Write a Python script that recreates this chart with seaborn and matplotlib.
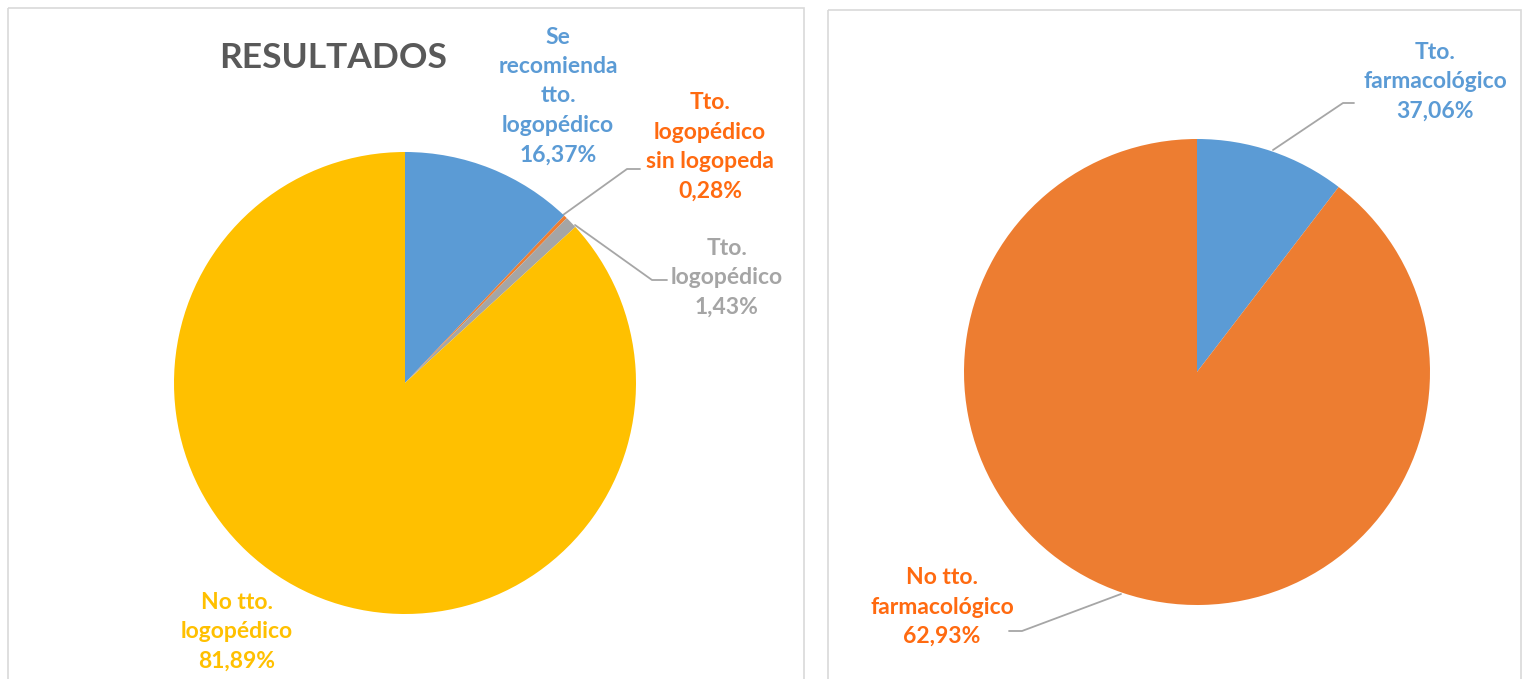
import matplotlib
matplotlib.use("Agg")
import matplotlib.pyplot as plt
import seaborn as sns
from matplotlib.patches import Rectangle

# datos (tamaño visual de los sectores y etiquetas tal como aparecen)
izq_etiquetas = ["Se\nrecomienda\ntto.\nlogopédico", "Tto.\nlogopédico\nsin logopeda",
                 "Tto.\nlogopédico", "No tto.\nlogopédico"]
izq_pct = ["16,37%", "0,28%", "1,43%", "81,89%"]
izq_sectores = [12.1, 0.25, 0.85, 86.8]

der_etiquetas = ["Tto.\nfarmacológico", "No tto.\nfarmacológico"]
der_pct = ["37,06%", "62,93%"]
der_sectores = [10.4, 89.6]

sns.set_theme(style="white")
plt.rcParams['font.family'] = ['Lato', 'DejaVu Sans']

pal_izq = sns.color_palette(["#5B9BD5", "#ED7D31", "#A5A5A5", "#FFC000"])
txt_izq = ["#5B9BD5", "#FF6A10", "#A5A5A5", "#FFC000"]
pal_der = sns.color_palette(["#5B9BD5", "#ED7D31"])
txt_der = ["#5B9BD5", "#FF6A10"]

W, H = 1523, 679
fig = plt.figure(figsize=(W / 100, H / 100), dpi=100)
fig.patch.set_facecolor("white")

# capa de fondo en pixeles para marcos, textos y líneas guía
bg = fig.add_axes([0, 0, 1, 1])
bg.set_xlim(0, W)
bg.set_ylim(H, 0)
bg.axis("off")
bg.add_patch(Rectangle((8, 8), 796, 690, fill=False, edgecolor="#D9D9D9", lw=1.2))
bg.add_patch(Rectangle((828, 10), 693, 690, fill=False, edgecolor="#D9D9D9", lw=1.2))


def pie_axes(cx, cy, r):
    ax = fig.add_axes([(cx - r) / W, (H - cy - r) / H, 2 * r / W, 2 * r / H])
    return ax


ax1 = pie_axes(405, 383, 231)
ax1.pie(izq_sectores, colors=pal_izq, startangle=90, counterclock=False,
        wedgeprops=dict(linewidth=0))
ax1.set_xlim(-1, 1)
ax1.set_ylim(-1, 1)
ax1.set_aspect("equal")
ax1.axis("off")

ax2 = pie_axes(1197, 372, 233)
ax2.pie(der_sectores, colors=pal_der, startangle=90, counterclock=False,
        wedgeprops=dict(linewidth=0))
ax2.set_xlim(-1, 1)
ax2.set_ylim(-1, 1)
ax2.set_aspect("equal")
ax2.axis("off")

bg.text(333, 58, "RESULTADOS", ha="center", va="center", fontsize=25.5,
        fontweight="bold", color="#595959")

# posiciones de etiquetas
pos_izq = [(558, 96), (710, 147), (727, 278), (237, 632)]
pos_der = [(1435, 82), (942, 607)]

for (x, y), lab, pct, c in zip(pos_izq, izq_etiquetas, izq_pct, txt_izq):
    bg.text(x, y, lab + "\n" + pct, ha="center", va="center", fontsize=16.5,
            fontweight="bold", color=c, linespacing=1.5)
for (x, y), lab, pct, c in zip(pos_der, der_etiquetas, der_pct, txt_der):
    bg.text(x, y, lab + "\n" + pct, ha="center", va="center", fontsize=16.5,
            fontweight="bold", color=c, linespacing=1.5)

# líneas guía
guias = [
    ([563, 627, 640], [215, 169, 169]),
    ([575, 652, 667], [225, 280, 280]),
    ([1273, 1343, 1354], [150, 103, 103]),
    ([1121, 1022, 1009], [594, 631, 631]),
]
for gx, gy in guias:
    bg.plot(gx, gy, color="#A6A6A6", lw=1.3)

fig.savefig("out.png", dpi=100, facecolor="white")
